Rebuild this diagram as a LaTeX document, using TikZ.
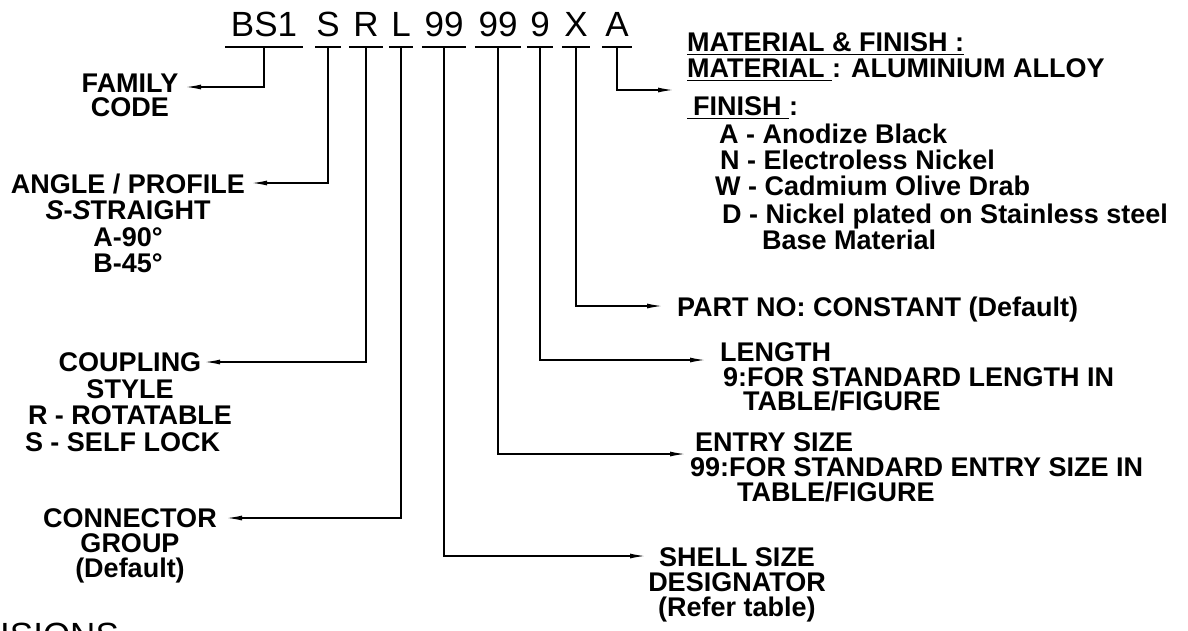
\documentclass[tikz,border=0pt]{standalone}
\usepackage{fontspec}
\setmainfont{Liberation Sans}
\usetikzlibrary{arrows.meta}
\newsavebox{\ulbox}
\newcommand{\lblfnt}[1]{\fontsize{27}{#1}\selectfont\bfseries}
\newcommand{\undr}[1]{\sbox{\ulbox}{#1}\rlap{\rule[-3.5pt]{\wd\ulbox}{1.4pt}}\usebox{\ulbox}}

\begin{document}
\begin{tikzpicture}[x=1pt, y=-1pt,
    code/.style={font=\fontsize{35}{40}\selectfont, inner sep=0pt, text depth=10pt, anchor=south},
    lbl/.style={inner sep=0pt, align=center, anchor=north},
    lft/.style={inner sep=0pt, align=left, anchor=north west},
    arr/.style={-{Latex[length=15pt,width=5pt]}, line width=1.3pt},
    ul/.style={line width=1.3pt}]
        \useasboundingbox (0,0) rectangle (1188,630);

        % Ordering code, one node per field
        \node[code, minimum width=77pt] (cBS) at (264,47) {BS1};
        \node[code, minimum width=25pt] (cS) at (328,47) {S};
        \node[code, minimum width=34pt] (cR) at (366,47) {R};
        \node[code, minimum width=24pt] (cL) at (401,47) {L};
        \node[code, minimum width=44pt] (cSh) at (444,47) {99};
        \node[code, minimum width=46pt] (cEn) at (498,47) {99};
        \node[code, minimum width=26pt] (cLn) at (540,47) {9};
        \node[code, minimum width=28pt] (cPt) at (576,47) {X};
        \node[code, minimum width=30pt] (cMf) at (617,47) {A};
        \foreach \c in {cBS,cS,cR,cL,cSh,cEn,cLn,cPt,cMf}
            \draw[ul] (\c.south west) -- (\c.south east);

        % Descriptions on the left
        \node[lbl, font=\lblfnt{24.5}] (family) at (130,73.5) {FAMILY\\CODE};
        \node[lbl, font=\lblfnt{26.5}] (angle) at (128,173.5)
        {ANGLE / PROFILE\\\textit{S}-\textit{S}TRAIGHT\\A-90°\\B-45°};
        \node[lbl, font=\lblfnt{26.7}] (coupling) at (130,352.5)
        {COUPLING\\STYLE\\R - ROTATABLE\\S - SELF LOCK\hspace*{15pt}};
        \node[lbl, font=\lblfnt{25}] (group) at (130,508.5) {CONNECTOR\\GROUP\\(Default)};

        % Descriptions on the right
        \node[lft, font=\lblfnt{26}] (finish) at (687,32.5)
        {\undr{MATERIAL \& FINISH :}\\
         \undr{MATERIAL\ }: ALUMINIUM ALLOY\\[12pt]
         \undr{\hspace*{6pt}FINISH\ }:\\[2pt]
         \hspace*{32pt}A - Anodize Black\\
         \hspace*{33pt}N - Electroless Nickel\\
         \hspace*{28pt}W - Cadmium Olive Drab\\[2pt]
         \hspace*{35pt}D - Nickel plated on Stainless steel\\
         \hspace*{75pt}Base Material};
        \node[inner sep=0pt, anchor=base west, font=\lblfnt{26}] (partno) at (677,316)
        {PART NO: CONSTANT (Default)};
        \node[lft, font=\lblfnt{24.5}] (length) at (720,342.5)
        {LENGTH\\\hspace*{3pt}9:FOR STANDARD LENGTH IN\\\hspace*{23pt}TABLE/FIGURE};
        \node[lft, font=\lblfnt{25}] (entry) at (690,432.5)
        {\hspace*{5pt}ENTRY SIZE\\99:FOR STANDARD ENTRY SIZE IN\\\hspace*{47pt}TABLE/FIGURE};
        \node[lbl, font=\lblfnt{25}] (shell) at (737,547.5) {SHELL SIZE\\DESIGNATOR\\(Refer table)};

        % Title cut off at the bottom edge
        \node[inner sep=0pt, anchor=base west, font=\fontsize{35}{40}\selectfont] (dims) at (0,647) {ISIONS};

        % Arrow tips next to the descriptions
        \coordinate (famtip) at (186,87);
        \coordinate (angtip) at (252,183);
        \coordinate (coutip) at (205,362);
        \coordinate (contip) at (227,518);
        \coordinate (shtip) at (645,556);
        \coordinate (entip) at (685,454);
        \coordinate (lntip) at (705,360);
        \coordinate (pttip) at (662,306);
        \coordinate (mftip) at (673,90);

        % Leaders from each field to its description
        \draw[arr] (cBS.south) |- (famtip);
        \draw[arr] (cS.south) |- (angtip);
        \draw[arr] (cR.south) |- (coutip);
        \draw[arr] (cL.south) |- (contip);
        \draw[arr] (cSh.south) |- (shtip);
        \draw[arr] (cEn.south) |- (entip);
        \draw[arr] (cLn.south) |- (lntip);
        \draw[arr] (cPt.south) |- (pttip);
        \draw[arr] (cMf.south) |- (mftip);
      \end{tikzpicture}
\end{document}
